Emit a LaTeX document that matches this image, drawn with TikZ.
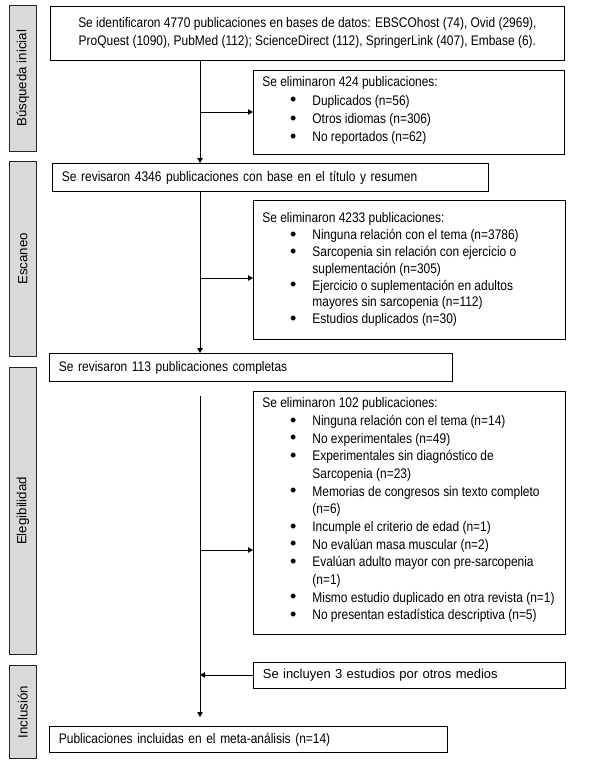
\documentclass[tikz,border=0pt]{standalone}
\usepackage{fontspec}
\setmainfont{Liberation Sans}[FakeStretch=0.86]
\newfontfamily\widefont{Liberation Sans}
\usetikzlibrary{arrows.meta}
\definecolor{phasegray}{HTML}{D9D9D9}
\newcommand\bigbullet{{\widefont\fontsize{18}{18}\selectfont\raisebox{-0.6pt}{\textbullet}}}
\newcommand\bul[1]{\par\noindent\hspace*{50pt}\llap{\bigbullet\hspace{16pt}}\mbox{#1}}
\newcommand\cont[1]{\par\noindent\hspace*{50pt}\mbox{#1}}
\begin{document}
\begin{tikzpicture}[x=1pt,y=-1pt,
  box/.style={draw, line width=0.8pt, inner sep=0pt, anchor=north west,
    font=\fontsize{13.9}{17.5}\selectfont},
  single/.style={box, align=left, inner xsep=9.5pt},
  phase/.style={draw=black!85, fill=phasegray, line width=0.8pt, anchor=north west,
    inner sep=0pt, minimum width=27pt},
  phasetext/.style={rotate=90, font=\widefont\fontsize{13.3}{15}\selectfont},
  arr/.style={-{Triangle[length=5pt,width=5.5pt]}, line width=0.8pt}]
\useasboundingbox (0,0) rectangle (613,764);

% phase labels
\node[phase, minimum height=146pt] (p1) at (9,5) {};
\node[phasetext] (p1t) at (p1.center) {Búsqueda inicial};
\node[phase, minimum height=195pt] (p2) at (9,161) {};
\node[phasetext] (p2t) at (p2.center) {Escaneo};
\node[phase, minimum height=287pt] (p3) at (9,367) {};
\node[phasetext] (p3t) at (p3.center) {Elegibilidad};
\node[phase, minimum height=93pt] (p4) at (9,665) {};
\node[phasetext] (p4t) at (p4.center) {Inclusión};

% main boxes
\node[box, minimum width=514pt, minimum height=54pt, align=center,
  font=\fontsize{13.9}{18}\selectfont] (top) at (50,6)
  {Se identificaron 4770 publicaciones en bases de datos: EBSCOhost (74), Ovid (2969),\\
   ProQuest (1090), PubMed (112); ScienceDirect (112), SpringerLink (407), Embase (6).};

\node[box, minimum width=311pt, minimum height=84pt] (ex1) at (253,70)
  {\begin{minipage}[c][84pt][t]{293pt}\fontsize{13.9}{18.3}\selectfont
   \rule{0pt}{16.5pt}Se eliminaron 424 publicaciones:
   \bul{Duplicados (n=56)}
   \bul{Otros idiomas (n=306)}
   \bul{No reportados (n=62)}
   \end{minipage}};

\node[single, minimum width=436pt, minimum height=28pt, text width=417pt] (rev1) at (52,163)
  {Se revisaron 4346 publicaciones con base en el título y resumen};

\node[box, minimum width=312pt, minimum height=139pt] (ex2) at (253,200)
  {\begin{minipage}[c][139pt][t]{294pt}\fontsize{13.9}{16.8}\selectfont
   \rule{0pt}{22.5pt}Se eliminaron 4233 publicaciones:
   \bul{Ninguna relación con el tema (n=3786)}
   \bul{Sarcopenia sin relación con ejercicio o}
   \cont{suplementación (n=305)}
   \bul{Ejercicio o suplementación en adultos}
   \cont{mayores sin sarcopenia (n=112)}
   \bul{Estudios duplicados (n=30)}
   \end{minipage}};

\node[single, minimum width=403pt, minimum height=28pt, text width=384pt] (rev2) at (49,353)
  {Se revisaron 113 publicaciones completas};

\node[box, minimum width=312pt, minimum height=243pt] (ex3) at (253,391)
  {\begin{minipage}[c][243pt][t]{294pt}\fontsize{13.9}{17.67}\selectfont
   \rule{0pt}{16.5pt}Se eliminaron 102 publicaciones:
   \bul{Ninguna relación con el tema (n=14)}
   \bul{No experimentales (n=49)}
   \bul{Experimentales sin diagnóstico de}
   \cont{Sarcopenia (n=23)}
   \bul{Memorias de congresos sin texto completo}
   \cont{(n=6)}
   \bul{Incumple el criterio de edad (n=1)}
   \bul{No evalúan masa muscular (n=2)}
   \bul{Evalúan adulto mayor con pre-sarcopenia}
   \cont{(n=1)}
   \bul{Mismo estudio duplicado en otra revista (n=1)}
   \bul{No presentan estadística descriptiva (n=5)}
   \end{minipage}};

\node[single, minimum width=312pt, minimum height=26pt, text width=293pt,
  font=\widefont\fontsize{13}{15}\selectfont] (inc) at (253,662)
  {Se incluyen 3 estudios por otros medios};

\node[single, minimum width=398pt, minimum height=26pt, text width=379pt] (fin) at (49,726)
  {Publicaciones incluidas en el meta-análisis (n=14)};

% spine
\coordinate (sp) at (200,0);
\coordinate (s3) at (200,396);
\coordinate (b1) at (200,112);
\coordinate (b2) at (200,278);
\coordinate (b3) at (200,550);
\coordinate (b4) at (200,675);

\draw[arr] (top.south -| sp) -- (rev1.north -| sp);
\draw[arr] (b1) -- (b1 -| ex1.west);
\draw[arr] (rev1.south -| sp) -- (rev2.north -| sp);
\draw[arr] (b2) -- (b2 -| ex2.west);
\draw[arr, shorten >=9pt] (s3) -- (fin.north -| sp);
\draw[arr] (b3) -- (b3 -| ex3.west);
\draw[arr] (b4 -| inc.west) -- (b4);
\end{tikzpicture}
\end{document}
